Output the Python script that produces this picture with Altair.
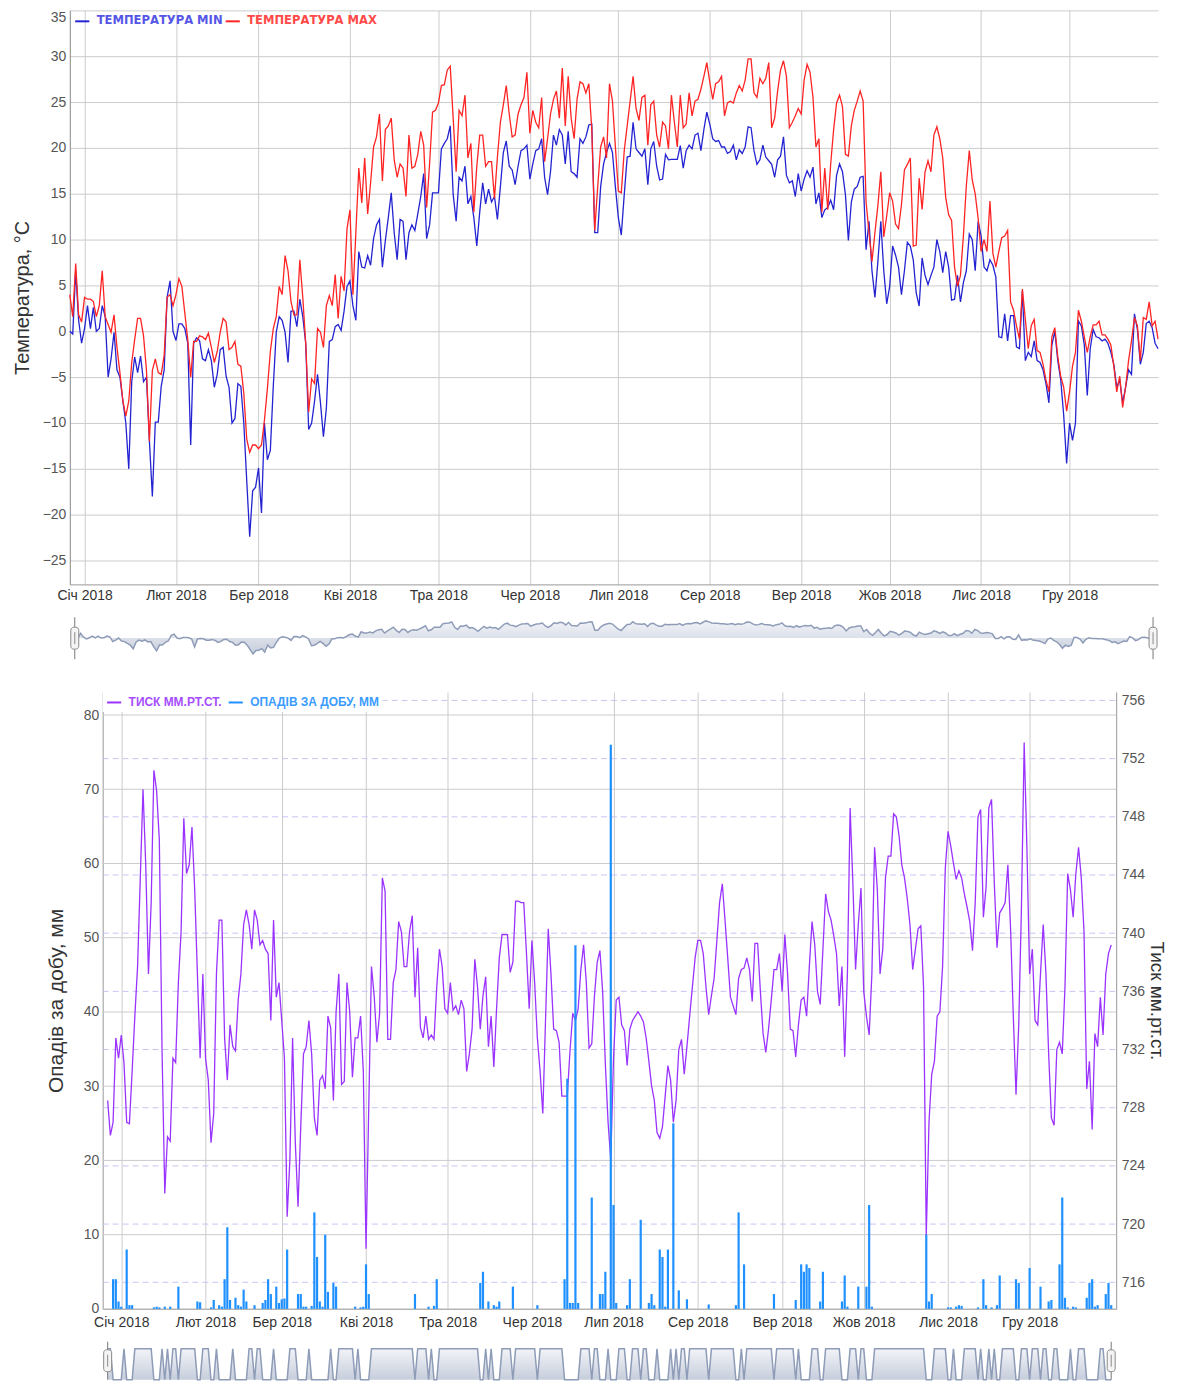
import altair as alt
import pandas as pd

# ---------------- data ----------------
START = "2017-12-27"
YEAR_START = "2018-01-01"
END = "2018-12-31"
MONTHS = ["Січ", "Лют", "Бер", "Кві", "Тра", "Чер", "Лип", "Сер", "Вер", "Жов", "Лис", "Гру"]
TEMP_SERIES = ["Температура min", "Температура max"]
BOTTOM_SERIES = ["Тиск мм.рт.ст.", "Опадів за добу, мм"]
TEMP_TICKS = [-25, -20, -15, -10, -5, 0, 5, 10, 15, 20, 25, 30, 35]
RAIN_TICKS = [0, 10, 20, 30, 40, 50, 60, 70, 80]
PRESS_TICKS = [716, 720, 724, 728, 732, 736, 740, 744, 748, 752, 756]

# daily minimum temperature, 27 Dec 2017 .. 31 Dec 2018
TMIN = [
    0.0, -0.3, 6.6, 1.2, -1.3,
    0.3, 2.8, 0.3, 2.6, 0.0, 0.3, 2.8, 1.6, -5.0, -3.0,
    -0.1, -4.2, -5.0, -7.6, -10.0, -15.0, -5.5, -2.8, -4.5, -2.7,
    -5.5, -5.0, -12.0, -18.0, -9.9, -9.9, -6.0, -4.2, 3.7, 5.5,
    0.0,
    -1.0, 0.8, 0.8, 0.3, -1.3, -12.4, -1.3, -0.7, -1.0,
    -3.0, -3.2, -2.0, -3.2, -6.1, -4.7, -2.0, -1.75, -4.9, -6.1,
    -10.0, -9.5, -5.7, -6.0, -10.0, -16.3, -22.4, -17.4, -17.0,
    -14.9, -19.8, -10.0, -14.0, -13.0, -6.0, -0.1, 1.6, 1.2, -0.1, -3.4,
    2.2, 2.2, 0.5, 3.5, 1.6, -1.3, -10.7, -10.0, -7.6, -4.7,
    -7.8, -11.5, -8.4, -1.1, -0.9, 0.5, 0.75, 0.1, 2.2, 4.9,
    5.5, 2.8, 1.2, 8.7, 7.0, 6.9, 8.25, 7.2, 10.1, 11.6,
    12.2, 7.0, 9.9, 12.4, 15.1, 10.75, 7.8, 12.2, 12.0, 7.8,
    10.75, 11.6, 11.0, 12.8, 14.7, 17.2, 10.1, 11.6, 15.1, 15.1,
    15.1, 19.9, 20.5, 21.0, 22.4, 14.9, 12.0, 16.8, 16.4, 18.0,
    13.9, 14.7, 12.4, 9.3, 13.0, 16.2, 13.9, 15.5, 14.1, 14.7,
    12.2, 15.75, 19.5, 20.75, 18.0, 17.6, 16.0, 18.0, 19.7, 19.9,
    20.3,
    16.6, 18.25, 19.7, 19.9, 21.0, 16.8, 14.9, 17.4, 21.4,
    20.3, 22.0, 21.4, 18.25, 21.8, 17.4, 17.2, 16.8, 21.0, 20.5,
    21.2, 22.5, 22.6, 10.75, 10.75, 15.75, 18.25, 19.5, 20.5, 19.5,
    15.75,
    12.4, 10.5, 14.9, 19.0, 19.1, 22.8, 19.9, 19.5, 19.1,
    19.9, 16.0, 19.9, 20.7, 18.0, 16.5, 16.6, 19.3, 18.7, 18.75,
    18.75, 18.75, 20.25, 17.8, 19.7, 20.3, 19.9, 21.4, 21.6, 19.7,
    22.0, 23.9,
    22.6, 21.0, 20.7, 20.8, 20.1, 20.1, 19.4, 19.6,
    20.3, 18.7, 19.8, 19.4, 20.1, 22.3, 22.2, 19.7, 18.2, 18.7,
    20.3, 19.0, 18.6, 18.2, 16.8, 18.7, 19.1, 21.2, 17.0, 16.2,
    16.4, 14.7, 17.2,
    15.3, 16.6, 17.5, 16.8, 17.9, 13.9, 15.1,
    12.4, 13.25, 13.5, 14.3, 13.25, 17.0, 18.25, 17.4, 14.9, 9.9,
    14.1, 15.5, 15.8, 16.8, 16.9, 8.9, 12.0, 6.6, 3.7, 7.6,
    12.0, 6.6, 3.0,
    4.9, 9.3, 8.3, 7.0, 4.0, 6.6, 9.7,
    9.3, 7.8, 4.2, 2.75, 8.0, 6.1, 5.1, 6.1, 7.0, 10.0,
    8.7, 6.4, 8.7, 7.0, 3.4, 3.5, 6.1, 3.2, 5.3, 6.6,
    10.6, 10.0, 6.6, 12.0,
    10.4, 7.0, 6.6, 7.8, 7.2, 5.9,
    -0.6, -0.7, 1.9, -1.05, 1.7, 1.7, -1.7, -1.9, 4.4, -3.2,
    -2.3, -2.75, -1.05, -3.2, -3.4, -4.2, -5.7, -7.8, -1.5, 0.0,
    -3.2, -5.3, -9.1, -14.4,
    -10.0, -11.9, -10.0, 1.1, 0.6, -1.5,
    -7.0, -1.9, 0.2, -0.6, -0.7, -1.05, -0.85, -1.3, -2.3, -3.6,
    -6.1, -5.3, -7.8, -6.1, -4.2, -4.7, 1.9, 0.2, -3.6, -2.3,
    0.85, 1.1, 0.4, -1.3, -1.9,
]

# daily maximum temperature, 27 Dec 2017 .. 31 Dec 2018
TMAX = [
    4.0, 1.6, 7.4, 1.8, 1.0,
    3.7, 3.5, 3.5, 3.25, 1.6, 2.8, 6.6, 1.6, 0.75, -0.1,
    1.8, -1.75, -4.5, -7.6, -9.25, -7.6, -3.4, -0.9, 1.4, 1.4,
    -0.5, -4.25, -12.0, -4.25, -3.0, -4.5, -4.7, -2.6, 3.7, 4.0,
    2.8,
    4.0, 5.75, 4.9, 2.0, -0.9, -5.0, -1.1, -1.1, -0.5,
    -0.6, -0.9, -0.2, -1.75, -3.4, -2.2, -0.1, 1.4, 1.0, -2.0,
    -1.75, -1.1, -3.6, -3.8, -6.75, -11.75, -13.2, -12.4, -12.4,
    -12.8, -12.4, -9.7, -6.25, -2.2, 0.3, 1.6, 4.9, 4.0, 8.25, 6.6,
    3.25, 1.8, 1.8, 7.8, 3.7, -1.3, -8.8, -5.2, -5.7, 0.3,
    -0.1, -1.75, 2.8, 3.9, 2.8, 6.2, 1.4, 6.0, 4.4, 11.2,
    13.25, 4.0, 10.75, 17.8, 14.0, 18.9, 12.8, 16.2, 20.1, 21.2,
    23.7, 16.4, 22.0, 22.4, 23.25, 18.7, 16.8, 18.25, 17.8, 14.7,
    21.4, 17.8, 18.0, 19.3, 21.8, 20.3, 13.5, 18.25, 23.9, 24.1,
    24.9, 26.8, 26.9, 28.5, 28.9, 23.25, 17.4, 24.1, 23.5, 25.75,
    18.9, 20.5, 13.0, 18.0, 21.4, 21.4, 18.0, 18.5, 18.5, 14.5,
    19.0, 22.8, 24.7, 26.8, 23.7, 21.2, 21.4, 23.7, 24.7, 25.5,
    28.25,
    21.6, 24.1, 22.8, 22.2, 25.5, 18.5, 21.0, 23.7, 25.3,
    26.2, 23.25, 28.7, 22.4, 27.8, 23.25, 21.0, 25.3, 27.2, 27.0,
    26.0, 27.0, 22.0, 11.0, 15.75, 20.1, 21.2, 18.9, 27.0, 25.1,
    20.1,
    15.3, 15.1, 19.7, 22.4, 25.1, 27.8, 24.3, 23.0, 25.5,
    25.75, 20.3, 24.7, 25.1, 21.4, 20.1, 22.8, 22.4, 19.9, 25.75,
    22.8, 20.1, 25.75, 22.2, 22.6, 26.0, 23.5, 25.1, 25.3, 26.4,
    27.8, 29.3,
    27.2, 25.3, 27.0, 27.2, 27.8, 23.5, 24.9, 25.1,
    24.9, 26.0, 26.8, 26.2, 27.4, 29.7, 29.7, 26.0, 25.5, 27.6,
    27.0, 27.6, 29.3, 22.2, 23.25, 26.2, 28.5, 29.5, 27.8, 22.2,
    22.8, 23.5, 24.3,
    23.7, 27.4, 29.1, 28.25, 25.5, 20.1, 21.0,
    13.0, 17.8, 13.25, 18.25, 22.0, 24.9, 25.75, 24.5, 19.3, 19.1,
    22.4, 24.1, 25.1, 26.2, 25.1, 14.1, 10.75, 7.6, 10.75, 13.7,
    17.4, 10.3, 12.6,
    15.1, 14.2, 11.7, 11.2, 13.8, 17.6, 18.2,
    18.9, 9.3, 9.4, 16.7, 13.3, 17.4, 18.6, 17.4, 21.4, 22.3,
    21.0, 18.9, 14.6, 12.7, 12.1, 7.0, 4.9, 6.1, 10.4, 15.9,
    19.7, 16.5, 15.0, 12.3,
    8.7, 10.0, 8.7, 14.2, 8.5, 7.0,
    8.7, 10.2, 10.4, 11.0, 3.2, 2.3, 0.6, -0.85, 4.6, 1.3,
    -1.9, 0.6, 1.3, -2.1, -2.3, -3.6, -5.3, -6.6, -0.6, 0.4,
    -2.75, -4.9, -6.1, -8.7,
    -6.6, -3.8, -2.3, 2.3, 1.1, -0.6,
    -2.3, -0.6, 0.7, 0.7, 1.1, -0.4, -0.4, -0.85, -1.5, -3.8,
    -6.6, -4.9, -8.3, -6.1, -3.2, -1.05, 1.5, 0.6, -3.2, 1.5,
    1.3, 3.2, 0.6, 1.1, -0.85,
]

# daily pressure, mm Hg, 27 Dec 2017 .. 31 Dec 2018
PRESSURE = [
    728.5, 726.1, 727.0, 732.8, 731.4,
    733.0, 731.1, 727.0, 726.9, 730.5, 734.3, 737.7, 743.8, 749.9, 744.7,
    737.2, 742.1, 751.2, 749.8, 746.4, 731.9, 722.1, 726.0, 725.7, 731.4,
    731.1, 736.6, 740.1, 747.9, 744.1, 744.7, 747.3, 743.0, 737.2, 731.4,
    737.2,
    731.4, 729.9, 725.6, 727.6, 737.2, 740.9, 740.9, 732.8, 729.9,
    733.7, 732.2, 731.9, 735.4, 737.2, 740.6, 741.6, 740.6, 738.9, 741.6,
    740.9, 739.2, 739.5, 738.9, 738.6, 734.0, 740.9, 735.6, 736.6,
    734.0, 731.4, 720.5, 724.4, 732.8, 725.6, 721.2, 726.7, 731.7, 732.2, 734.0,
    731.7, 727.3, 726.1, 729.9, 730.2, 729.3, 734.3, 733.5, 728.5, 734.6,
    737.2, 729.6, 729.8, 736.6, 734.6, 730.1, 732.8, 732.8, 734.3, 730.5,
    718.3, 728.0, 737.7, 735.7, 732.5, 734.5, 743.8, 742.9, 732.7, 732.7,
    736.6, 737.5, 740.8, 740.1, 737.7, 737.7, 740.1, 741.2, 735.6, 739.0,
    733.5, 732.8, 734.3, 732.7, 733.0, 732.7, 736.3, 738.9, 737.7, 734.8,
    734.5, 736.6, 734.7, 735.0, 734.4, 735.4, 734.8, 730.5, 731.7, 733.4,
    738.2, 736.3, 733.4, 735.7, 737.0, 732.2, 734.3, 730.8, 734.8, 738.3,
    739.9, 739.9, 739.9, 737.3, 738.0, 742.2, 742.2, 742.1, 742.1, 738.6,
    734.8,
    739.5, 736.6, 732.8, 730.5, 727.6, 734.0, 740.3, 737.2, 733.4,
    733.3, 732.5, 728.8, 728.8, 728.8, 731.9, 734.5, 734.0, 734.8, 737.5,
    739.2, 736.6, 732.1, 732.4, 735.7, 738.0, 738.8, 736.0, 731.0, 727.0,
    724.4,
    731.4, 735.4, 735.6, 733.7, 733.3, 730.9, 733.4, 734.0, 734.3,
    734.6, 734.3, 733.9, 732.8, 731.2, 729.5, 728.5, 726.3, 725.9, 726.7,
    728.8, 730.9, 729.9, 727.0, 728.5, 732.0, 732.7, 730.3, 732.2, 734.3,
    736.3, 738.3,
    739.5, 739.5, 738.6, 736.3, 734.4, 735.7, 736.9, 739.5,
    742.1, 743.4, 740.9, 738.3, 735.6, 735.0, 734.4, 736.9, 737.5, 737.6,
    738.3, 737.5, 735.3, 739.3, 739.3, 736.0, 733.1, 731.8, 733.4, 735.4,
    737.5, 737.5, 738.6,
    736.0, 739.9, 737.2, 733.4, 733.3, 731.5, 733.7,
    735.4, 735.6, 734.3, 737.7, 740.8, 739.2, 736.0, 735.1, 738.9, 742.7,
    741.5, 740.9, 739.8, 738.6, 735.0, 737.7, 731.5, 737.2, 748.6, 743.5,
    737.5, 740.6, 743.1,
    736.0, 734.3, 733.0, 737.2, 745.9, 743.0, 737.2,
    738.9, 743.8, 745.3, 745.3, 748.2, 748.0, 746.7, 744.7, 743.8, 742.4,
    740.6, 737.5, 738.9, 740.3, 740.5, 736.3, 719.2, 727.0, 730.3, 731.2,
    734.3, 734.6, 737.7, 744.5,
    747.0, 746.0, 744.8, 743.7, 744.3, 743.8,
    742.7, 741.8, 740.8, 738.8, 742.1, 748.0, 748.5, 741.1, 743.2, 748.6,
    749.2, 743.5, 739.0, 741.4, 741.7, 742.1, 744.7, 740.3, 734.3, 728.9,
    733.7, 741.8, 753.1, 745.9,
    737.2, 738.9, 734.0, 733.7, 737.2, 740.6,
    737.2, 731.7, 727.3, 726.8, 732.0, 732.5, 731.7, 736.3, 744.1, 743.0,
    741.1, 744.1, 745.9, 743.8, 740.1, 729.3, 731.2, 726.5, 733.1, 732.2,
    735.6, 733.0, 737.2, 738.6, 739.2,
]

# precipitation: (day offset from 1 Jan 2018, mm per day)
RAIN = [
    (-3, 4.0), (-2, 4.0), (-1, 1.0), (0, 0.3), (2, 8.0), (3, 0.5), (4, 0.5),
    (12, 0.2), (13, 0.3), (14, 0.2), (16, 0.3), (18, 0.3), (21, 3.0), (28, 1.0),
    (29, 0.9), (33, 0.2), (34, 1.2), (36, 0.5), (37, 0.3), (38, 4.0), (39, 11.0),
    (40, 1.2), (42, 1.5), (43, 0.5), (44, 0.3), (45, 2.6), (46, 1.0), (49, 0.5),
    (52, 0.8), (53, 1.2), (54, 4.0), (55, 2.0), (57, 3.0), (58, 0.8), (59, 1.3),
    (60, 1.4), (61, 8.0), (65, 2.0), (66, 2.0), (67, 0.3), (68, 0.3), (70, 0.4),
    (71, 13.0), (72, 7.0), (73, 1.0), (74, 0.3), (75, 10.0), (76, 2.3), (78, 3.5),
    (79, 3.0), (86, 0.3), (88, 0.2), (89, 0.3), (90, 6.0), (91, 2.0), (108, 2.0),
    (113, 0.3), (115, 0.4), (116, 4.0), (132, 3.5), (133, 5.0), (135, 1.0),
    (137, 0.5), (138, 0.3), (139, 1.0), (144, 3.0), (153, 0.5), (163, 4.0),
    (164, 31.0), (165, 0.8), (166, 0.8), (167, 49.0), (168, 0.8), (173, 15.0),
    (176, 2.0), (177, 2.0), (178, 5.0), (180, 76.0), (181, 14.0), (182, 0.8),
    (186, 0.5), (187, 4.0), (191, 12.0), (194, 0.8), (195, 2.0), (196, 0.5),
    (198, 8.0), (199, 7.0), (200, 0.3), (201, 8.0), (203, 25.0), (205, 2.5),
    (208, 1.3), (216, 0.6), (226, 0.5), (227, 13.0), (229, 6.0), (240, 2.0),
    (248, 1.2), (250, 6.0), (251, 5.0), (252, 6.0), (253, 5.5), (257, 1.0),
    (258, 5.0), (265, 1.0), (266, 4.5), (267, 0.3), (271, 3.0), (274, 3.0),
    (275, 14.0), (276, 0.3), (296, 10.0), (297, 1.0), (298, 2.0), (304, 0.2),
    (305, 0.2), (307, 0.3), (308, 0.5), (309, 0.4), (315, 0.2), (317, 4.0),
    (318, 0.5), (320, 0.2), (322, 0.5), (323, 4.5), (329, 4.0), (330, 3.5),
    (334, 5.5), (338, 3.0), (341, 1.0), (342, 1.2), (345, 6.0), (346, 15.0),
    (347, 1.5), (348, 0.2), (350, 0.3), (351, 0.2), (355, 1.5), (356, 3.5),
    (357, 4.0), (358, 0.3), (359, 0.5), (362, 2.0), (363, 3.5), (364, 0.5),
]

# ---------------- styling ----------------
MIN_COLOR, MAX_COLOR = "#2323d2", "#ff2424"
MIN_LABEL, MAX_LABEL = "#5656e6", "#ff4a4a"
P_COLOR, P_LABEL = "#9a33ff", "#a64dff"
R_COLOR, R_LABEL = "#1e90ff", "#3b9cff"
GRID = "#cccccc"
DASH_GRID = "#c6c6f2"
NAV_LINE = "#8e9cb8"
NAV_FILL = alt.LinearGradient(
    gradient="linear",
    stops=[alt.GradientStop(color="#eceef4", offset=0),
           alt.GradientStop(color="#aeb8cc", offset=1)],
    x1=0, x2=0, y1=0, y2=1,
)
FONT = "Liberation Sans"

# plot areas: top chart 70..1162; bottom chart 103..1120 (its data range starts SHIFT px in)
SHIFT = 33
TOP_W, TOP_H = 1092, 576
BOT_W, BOT_H = 1050, 619
NAV1_H = 42
NAV2_H = 38
GAP = 33


def days(n):
    return pd.date_range(START, periods=n, freq="D").strftime("%Y-%m-%d")


def ms(s):
    return int(pd.Timestamp(s, tz="UTC").value // 10**6)


df_min = pd.DataFrame({"date": days(len(TMIN)), "t": TMIN, "s": TEMP_SERIES[0]})
df_max = pd.DataFrame({"date": days(len(TMAX)), "t": TMAX, "s": TEMP_SERIES[1]})
df_p = pd.DataFrame({"date": days(len(PRESSURE)), "p": PRESSURE, "s": BOTTOM_SERIES[0]})
rain_dates = [(pd.Timestamp(YEAR_START) + pd.Timedelta(days=d)).strftime("%Y-%m-%d") for d, _ in RAIN]
df_r = pd.DataFrame({"date": rain_dates, "mm": [v for _, v in RAIN], "s": BOTTOM_SERIES[1]})
all_days = list(days(len(PRESSURE)))
wet = set(rain_dates)
df_dry = pd.DataFrame({"date": all_days, "dry": [0 if d in wet else 1 for d in all_days]})
ends1 = pd.DataFrame({"date": [df_min["date"].iloc[0], df_min["date"].iloc[-1]]})
ends2 = pd.DataFrame({"date": [all_days[0], all_days[-1]]})

X_DOMAIN = [ms(START), ms(END)]
MONTH_TICKS = [ms(f"2018-{m:02d}-01") for m in range(1, 13)]
MONTH_EXPR = "[" + ",".join(f"'{m}'" for m in MONTHS) + "][utcmonth(datum.value)] + ' 2018'"

TOP_RANGE = [0, TOP_W]
BOT_RANGE = [SHIFT, BOT_W]


def x_enc(axis, rng):
    return alt.X("date:T", scale=alt.Scale(type="utc", domain=X_DOMAIN, nice=False, range=rng),
                 axis=axis, title=None)


def month_axis(pad):
    return alt.Axis(values=MONTH_TICKS, labelExpr=MONTH_EXPR, grid=True, gridColor=GRID,
                    ticks=False, tickSize=0, labelPadding=pad, labelFontSize=14,
                    labelColor="#333333", labelFlush=False, labelOverlap=False, labelAngle=0,
                    domainColor="#999999", title=None)


# ---------------- top chart ----------------
y_top = alt.Y("t:Q", scale=alt.Scale(domain=[-27.6, 35], nice=False, zero=False),
              axis=alt.Axis(orient="left", values=TEMP_TICKS, grid=True, gridColor=GRID,
                            ticks=False, tickSize=0, labelPadding=4, labelFontSize=14,
                            labelColor="#555555", labelFlush=True, domainColor="#888888",
                            title="Температура, °C", titleFontSize=20, titleFontWeight="normal",
                            titleColor="#333333", titlePadding=10))


def temp_legend(x, color):
    return alt.Legend(orient="none", legendX=x, legendY=2.5, title=None, symbolType="stroke",
                      symbolStrokeWidth=2, symbolSize=200, labelColor=color,
                      labelFont="DejaVu Sans", labelFontWeight="bold", labelFontSize=11.6,
                      labelExpr="upper(datum.label)", labelOffset=6, padding=0)


line_min = alt.Chart(df_min).mark_line(strokeWidth=1.3).encode(
    x=x_enc(month_axis(4), TOP_RANGE), y=y_top,
    color=alt.Color("s:N", scale=alt.Scale(domain=[TEMP_SERIES[0]], range=[MIN_COLOR]),
                    legend=temp_legend(4, MIN_LABEL)))
line_max = alt.Chart(df_max).mark_line(strokeWidth=1.3).encode(
    x=x_enc(month_axis(4), TOP_RANGE), y=y_top,
    color=alt.Color("s:N", scale=alt.Scale(domain=[TEMP_SERIES[1]], range=[MAX_COLOR]),
                    legend=temp_legend(155, MAX_LABEL)))
top = alt.layer(line_min, line_max).resolve_scale(color="independent").properties(
    width=TOP_W, height=TOP_H)


def handles(df, h, rng):
    mid = h / 2
    rule = alt.Chart(df).mark_rule(color="#777777", strokeWidth=1).encode(
        x=x_enc(None, rng), y=alt.value(0), y2=alt.value(h))
    box = alt.Chart(df).mark_bar(size=8, cornerRadius=3, fill="#f4f4f4", stroke="#8a8a8a",
                                 strokeWidth=1).encode(
        x=x_enc(None, rng), y=alt.value(mid - 11), y2=alt.value(mid + 11))
    inner = alt.Chart(df).mark_rule(color="#8a8a8a", strokeWidth=1).encode(
        x=x_enc(None, rng), y=alt.value(mid - 6), y2=alt.value(mid + 6))
    return [rule, box, inner]


nav1_area = alt.Chart(df_min).mark_area(
    color=NAV_FILL, line=alt.OverlayMarkDef(color=NAV_LINE, strokeWidth=1.5)).encode(
    x=x_enc(None, TOP_RANGE),
    y=alt.Y("t:Q", scale=alt.Scale(domain=[-29.5, 29], nice=False, zero=False), axis=None),
    y2=alt.value(NAV1_H))
nav1 = alt.layer(nav1_area, *handles(ends1, NAV1_H, TOP_RANGE)).properties(
    width=TOP_W, height=NAV1_H)

# ---------------- bottom chart ----------------
RAIN_SCALE = alt.Scale(domain=[0, 83.1], nice=False, zero=True)
PRESS_SCALE = alt.Scale(domain=[714.17, 756.58], nice=False, zero=False)


def bot_legend(x, color, label_color, bars=False):
    extra = {"symbolStrokeColor": color} if bars else {}
    return alt.Legend(orient="none", legendX=x, legendY=-1, title=None, symbolType="stroke",
                      symbolStrokeWidth=2, symbolSize=200, labelColor=label_color,
                      labelFont=FONT, labelFontWeight="bold", labelFontSize=12,
                      labelExpr="upper(datum.label)", labelOffset=6, padding=3,
                      fillColor="white", **extra)


# horizontal grid lines of both value axes, spanning the data range only
grid_rain = alt.Chart(pd.DataFrame({"mm": RAIN_TICKS})).mark_rule(
    color=GRID, strokeWidth=1).encode(
    y=alt.Y("mm:Q", scale=RAIN_SCALE, axis=None), x=alt.value(SHIFT), x2=alt.value(BOT_W))
grid_press = alt.Chart(pd.DataFrame({"p": PRESS_TICKS})).mark_rule(
    color=DASH_GRID, strokeWidth=1, strokeDash=[6, 4]).encode(
    y=alt.Y("p:Q", scale=PRESS_SCALE, axis=None), x=alt.value(SHIFT), x2=alt.value(BOT_W))

press = alt.Chart(df_p).mark_line(strokeWidth=1.3).encode(
    x=x_enc(month_axis(7), BOT_RANGE),
    y=alt.Y("p:Q", scale=PRESS_SCALE,
            axis=alt.Axis(orient="right", values=PRESS_TICKS, grid=False, ticks=False,
                          tickSize=0, labelPadding=5, labelFontSize=14, labelColor="#555555",
                          domainColor="#999999", title=BOTTOM_SERIES[0], titleFontSize=19,
                          titleFontWeight="normal", titleColor="#333333", titlePadding=2)),
    color=alt.Color("s:N", scale=alt.Scale(domain=[BOTTOM_SERIES[0]], range=[P_COLOR]),
                    legend=bot_legend(SHIFT, P_COLOR, P_LABEL)))
bars = alt.Chart(df_r).mark_bar(size=2.2).encode(
    x=x_enc(month_axis(7), BOT_RANGE),
    y=alt.Y("mm:Q", scale=RAIN_SCALE,
            axis=alt.Axis(orient="left", values=RAIN_TICKS, grid=False, ticks=False,
                          tickSize=0, offset=-SHIFT, labelPadding=4, labelFontSize=14,
                          labelColor="#555555", domainColor="#999999",
                          title=BOTTOM_SERIES[1], titleFontSize=21, titleFontWeight="normal",
                          titleColor="#333333", titlePadding=17)),
    color=alt.Color("s:N", scale=alt.Scale(domain=[BOTTOM_SERIES[1]], range=[R_COLOR]),
                    legend=bot_legend(122 + SHIFT, R_COLOR, R_LABEL, bars=True)))
bottom = alt.layer(grid_rain, grid_press, press, bars).resolve_scale(
    y="independent", color="independent").properties(width=BOT_W, height=BOT_H)

nav2_area = alt.Chart(df_dry).mark_area(
    color=NAV_FILL, line=alt.OverlayMarkDef(color=NAV_LINE, strokeWidth=1.5)).encode(
    x=x_enc(None, BOT_RANGE),
    y=alt.Y("dry:Q", scale=alt.Scale(domain=[0, 1.23], nice=False, zero=True), axis=None),
    y2=alt.value(NAV2_H))
nav2 = alt.layer(nav2_area, *handles(ends2, NAV2_H, BOT_RANGE)).properties(
    width=BOT_W, height=NAV2_H)

chart = alt.vconcat(top, nav1, bottom, nav2, spacing=GAP, bounds="flush").resolve_scale(
    color="independent").properties(
    padding={"left": 4, "top": 0, "right": 5, "bottom": 0}
).configure_view(stroke=None).configure_axis(
    labelFont=FONT, titleFont=FONT
)

chart.save("out.html", embed_options={"renderer": "svg", "actions": False})
